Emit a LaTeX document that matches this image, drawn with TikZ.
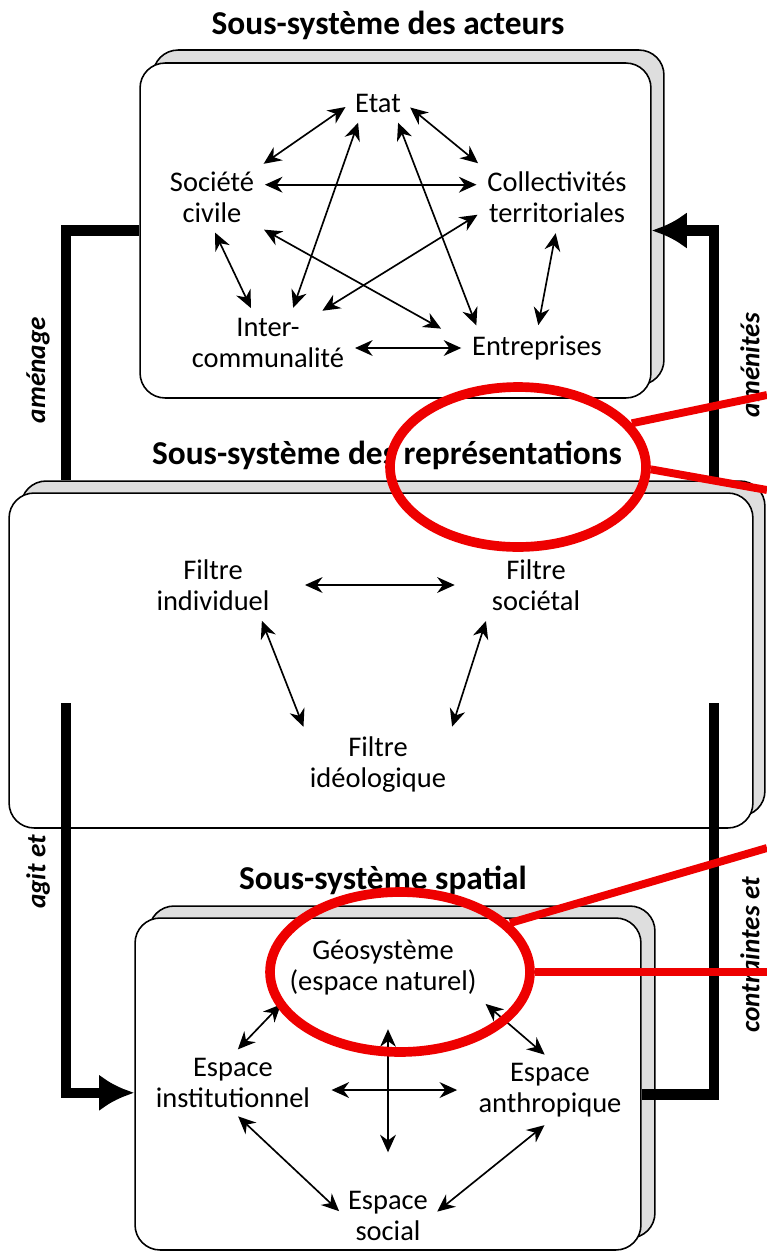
\documentclass[tikz,border=0pt]{standalone}
\usepackage{fontspec}
\setmainfont{Carlito}
\usetikzlibrary{arrows.meta,positioning,shapes.geometric,calc}
\definecolor{loupe}{RGB}{238,0,0}
\definecolor{ombre}{RGB}{222,222,222}
\tikzset{>={Stealth[length=10pt,width=9pt]}}
\tikzset{
  frontbox/.style={draw,line width=0.9pt,rounded corners=0.5cm,fill=white,inner sep=0pt},
  backbox/.style={frontbox,fill=ombre},
  titre/.style={font=\bfseries\fontsize{19}{22}\selectfont},
  lab/.style={align=center,font=\fontsize{16.2}{17.6}\selectfont,inner sep=2pt},
  rel/.style={<->,line width=0.95pt,shorten <=4pt,shorten >=4pt},
  boucle/.style={line width=6pt},
  grosse/.style={-{Latex[length=20pt,width=21pt]}},
  verbe/.style={rotate=90,font=\bfseries\itshape\fontsize{15.5}{18}\selectfont},
  cercle/.style={draw=loupe,line width=5.5pt,ellipse,inner sep=0pt},
  trait/.style={draw=loupe,line width=4.5pt}
}

\begin{document}
\begin{tikzpicture}[x=0.02cm, y=-0.02cm]
	\path[use as bounding box, fill=white] (0,0) rectangle (767,1255);

	% boites
	\node[backbox, minimum width=10.22cm, minimum height=6.7cm] (acteursfond) at (408.5,217.5) {};
	\node[frontbox, minimum width=10.22cm, minimum height=6.7cm] (acteurs) at (395.5,230.5) {};
	\node[backbox, minimum width=14.88cm, minimum height=6.7cm] (reprfond) at (393,648.5) {};
	\node[frontbox, minimum width=14.88cm, minimum height=6.7cm] (repr) at (381,660.5) {};
	\node[backbox, minimum width=10.12cm, minimum height=6.64cm] (spatialfond) at (402,1072) {};
	\node[frontbox, minimum width=10.12cm, minimum height=6.64cm] (spatial) at (388,1084) {};

	\node[titre] (t1) at (388,25) {Sous-système des acteurs};
	\node[titre] (t2) at (387,455) {Sous-système des représentations};
	\node[titre] (t3) at (383,880) {Sous-système spatial};

	% acteurs
	\node[lab] (etat) at (378,103) {Etat};
	\node[lab] (societe) at (212,197) {Société\\civile};
	\node[lab] (collect) at (557,197) {Collectivités\\territoriales};
	\node[lab] (inter) at (268,343) {Inter-\\communalité};
	\node[lab] (entrep) at (537,348) {Entreprises};

	\draw[rel] (etat.west) -- (societe.north east);
	\draw[rel] (etat.east) -- (collect.north west);
	\draw[rel] ([yshift=7pt]societe.east) -- ([yshift=7pt]collect.west);
	\draw[rel] (societe.south) -- ([xshift=-8pt]inter.north);
	\draw[rel] (collect.south) -- (entrep.north);
	\draw[rel] (inter.east |- entrep.west) -- (entrep.west);
	\draw[rel] ([xshift=-10pt]etat.south) -- ([xshift=13pt]inter.north);
	\draw[rel] ([xshift=10pt]etat.south) -- ([xshift=6pt]entrep.north west);
	\draw[rel] (societe.south east) -- ([xshift=-12pt]entrep.north west);
	\draw[rel] ([yshift=-8pt]collect.west) -- ([xshift=-18pt]inter.north east);

	% representations
	\node[lab] (ind) at (213,585) {Filtre\\individuel};
	\node[lab] (soc) at (536,585) {Filtre\\sociétal};
	\node[lab] (ideo) at (378,765) {Filtre\\idéologique};

	\draw[rel, shorten <=18pt, shorten >=19pt] (ind.east) -- (ind.east -| soc.west);
	\draw[rel] ([xshift=-8pt]ind.south east) -- (ideo.north west);
	\draw[rel] (soc.south west) -- (ideo.north east);

	% spatial
	\node[lab] (geo) at (383,968) {Géosystème\\(espace naturel)};
	\node[lab] (instit) at (233,1083) {Espace\\institutionnel};
	\node[lab] (anthro) at (550,1090) {Espace\\anthropique};
	\node[lab] (social) at (388,1216) {Espace\\social};

	\draw[rel] (geo.south west) -- (instit.north);
	\draw[rel] (geo.south east) -- (anthro.north);
	\draw[rel, shorten <=10pt, shorten >=10pt] ([yshift=-4pt]instit.east) -- ([yshift=-4pt]instit.east -| anthro.west);
	\draw[rel, shorten <=17pt, shorten >=20pt] (social.north |- geo.south) -- (social.north);
	\draw[rel] (instit.south) -- (social.west);
	\draw[rel] (anthro.south) -- (social.east);

	% boucles
	\coordinate (colg) at (66,0);
	\coordinate (cold) at (714,0);
	\coordinate (basg) at (66,703);
	\coordinate (basd) at (714,703);
	\draw[boucle] (acteurs.west) -| (colg |- reprfond.north);
	\draw[boucle, grosse] (cold |- reprfond.north) |- (acteurs.east);
	\draw[boucle, grosse] (basg) |- ([yshift=-5pt]spatial.west);
	\draw[boucle] ([yshift=-6pt]spatial.east) -| (basd);

	\node[verbe] (amenage) at (38,370) {aménage};
	\node[verbe] (amenites) at (750,365) {aménités};
	\node[verbe] (agit) at (38,872) {agit et};
	\node[verbe] (contr) at (750,955) {contraintes et};

	% loupes rouges
	\node[cercle, minimum width=5.12cm, minimum height=3.2cm] (loupe1) at (518,467) {};
	\node[cercle, minimum width=5.2cm, minimum height=3.2cm] (loupe2) at (400,972) {};
	\coordinate (bord1) at (767,395);
	\coordinate (bord2) at (767,490);
	\coordinate (bord3) at (767,848);
	\coordinate (bord4) at (767,972);
	\draw[trait] (loupe1.21) -- (bord1);
	\draw[trait] (loupe1.-1) -- (bord2);
	\draw[trait] (loupe2.24) -- (bord3);
	\draw[trait] (loupe2.0) -- (bord4);
\end{tikzpicture}
\end{document}
